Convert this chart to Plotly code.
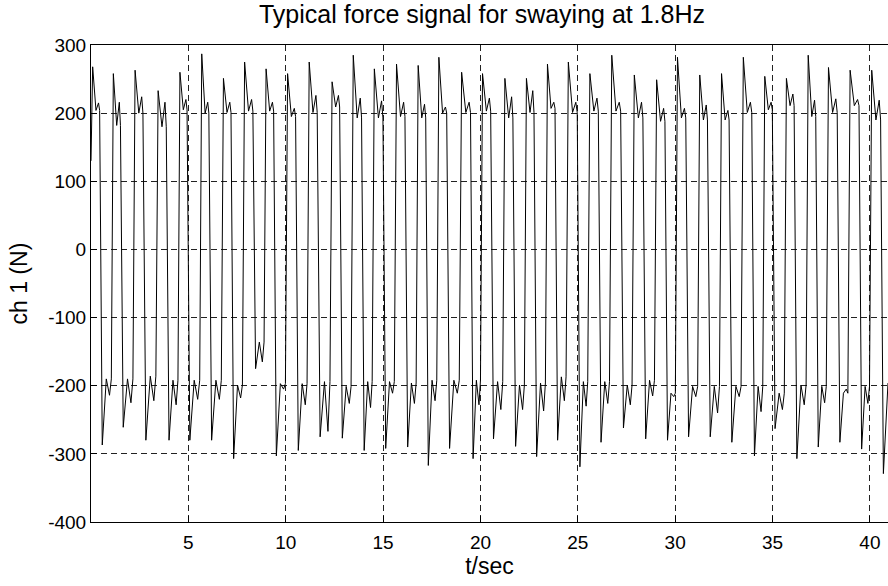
import plotly.graph_objects as go

# ---- data (per sway cycle) ----
start_time = 0.0
start_value = 130
end_time = 40.93

t_rise = [0.02, 1.08, 2.19, 3.37, 4.50, 5.62, 6.73, 7.81, 8.92, 10.02, 11.13, 12.31,
          13.39, 14.47, 15.61, 16.73, 17.79, 18.95, 20.03, 21.18, 22.29, 23.37, 24.43,
          25.54, 26.66, 27.82, 28.97, 30.04, 31.19, 32.31, 33.42, 34.53, 35.64, 36.76,
          37.79, 38.90, 40.01]
t_fall = [0.49, 1.56, 2.72, 3.92, 4.98, 6.10, 7.24, 8.37, 9.43, 10.56, 11.67, 12.82,
          13.95, 15.05, 16.18, 17.24, 18.32, 19.55, 20.58, 21.72, 22.80, 23.88, 25.03,
          26.11, 27.26, 28.40, 29.53, 30.60, 31.71, 32.82, 33.99, 35.04, 36.16, 37.27,
          38.38, 39.50, 40.61]
hi_peak = [268, 258, 263, 233, 260, 287, 251, 275, 265, 258, 275, 246, 285, 265, 272,
           270, 282, 260, 258, 251, 251, 272, 275, 258, 285, 256, 249, 282, 256, 258,
           282, 254, 251, 285, 267, 263, 263]
hi_dip = [204, 182, 200, 180, 205, 200, 201, 203, 203, 195, 201, 209, 193, 193, 195,
          193, 200, 201, 203, 193, 201, 207, 201, 203, 203, 193, 188, 193, 190, 190,
          201, 205, 211, 195, 201, 211, 190]
hi_bump = [215, 216, 224, 216, 220, 216, 216, 220, 216, 207, 226, 226, 222, 218, 216,
           213, 209, 216, 222, 224, 233, 216, 216, 222, 216, 216, 207, 207, 212, 204,
           216, 216, 228, 219, 221, 220, 219]
lo_min = [-287, -261, -280, -280, -280, -280, -307, -175, -303, -295, -275, -277, -295,
          -292, -290, -317, -292, -307, -278, -289, -304, -280, -319, -283, -262, -278,
          -280, -275, -275, -283, -303, -263, -307, -290, -283, -293, -329]
lo_bump = [-190, -190, -186, -192, -192, -192, -199, -136, -197, -197, -194, -201, -194,
           -194, -196, -192, -192, -192, -194, -199, -196, -187, -194, -194, -199, -192,
           -211, -201, -201, -201, -201, -211, -199, -201, -211, -201, -196]
lo_dip = [-214, -225, -222, -228, -220, -220, -218, -165, -205, -228, -267, -226, -232,
          -211, -226, -222, -211, -228, -235, -235, -237, -222, -230, -226, -228, -215,
          -216, -216, -240, -216, -238, -235, -228, -225, -205, -226]

x_ticks = [5, 10, 15, 20, 25, 30, 35, 40]
y_ticks = [-400, -300, -200, -100, 0, 100, 200, 300]
y_tick_labels = ["-400", "-300", "-200", "-100", "0", "100", "200", "300"]

# ---- assemble the trace from the per-cycle readings ----
xs = [start_time]
ys = [start_value]
n = len(t_rise)
for i in range(n):
    tr, tf = t_rise[i], t_fall[i]
    H = tf - tr
    xs += [tr + 0.14 * H, tr + 0.5 * H, tr + 0.78 * H, tr + 0.9 * H]
    ys += [hi_peak[i], hi_dip[i], hi_bump[i], hi_dip[i]]
    if i < n - 1:
        L = t_rise[i + 1] - tf
        xs += [tf + 0.15 * L, tf + 0.5 * L, tf + 0.78 * L, tf + 0.94 * L]
        ys += [lo_min[i], lo_bump[i], lo_dip[i], lo_bump[i]]
    else:
        L = 0.55
        xs += [tf + 0.15 * L, end_time]
        ys += [lo_min[i], lo_bump[i]]

fig = go.Figure()
fig.add_trace(go.Scatter(x=xs, y=ys, mode="lines",
                         line=dict(color="black", width=1), showlegend=False,
                         hoverinfo="skip"))

W, H_fig = 888, 586
ML, MT, MB = 91, 45, 64
plot_w = W - ML
font_family = "Liberation Sans, Arial, sans-serif"
fig.update_layout(
    width=W, height=H_fig,
    margin=dict(l=ML, r=0, t=MT, b=MB),
    paper_bgcolor="white", plot_bgcolor="white",
    font=dict(family=font_family, size=19, color="black"),
    title=dict(text="Typical force signal for swaying at 1.8Hz",
               x=482 / W, xanchor="center", xref="container",
               y=1 - 14 / H_fig, yanchor="middle", yref="container",
               font=dict(size=25)),
    annotations=[dict(text="ch 1 (N)", textangle=-90, showarrow=False,
                      xref="paper", yref="paper",
                      x=(18 - ML) / plot_w, y=0.5,
                      xanchor="center", yanchor="middle",
                      font=dict(size=23))],
)
fig.update_xaxes(
    range=[0, end_time], tickvals=x_ticks, ticktext=[str(v) for v in x_ticks],
    showline=True, linecolor="black", linewidth=1, mirror=True,
    ticks="inside", ticklen=6, tickcolor="black", automargin=False,
    ticklabelstandoff=3,
    showgrid=True, gridcolor="#222", gridwidth=1, griddash="6px,4px",
    zeroline=False, title=dict(text="t/sec", standoff=4, font=dict(size=23)),
)
fig.update_yaxes(
    range=[-400, 300], tickvals=y_ticks, ticktext=y_tick_labels,
    showline=True, linecolor="black", linewidth=1, mirror=False,
    ticks="inside", ticklen=6, tickcolor="black", automargin=False,
    showgrid=True, gridcolor="#222", gridwidth=1, griddash="6px,4px",
    zeroline=False,
)

fig.write_html("out.html",
               config={"displayModeBar": False},
               post_script="document.body.style.margin='0px';")
